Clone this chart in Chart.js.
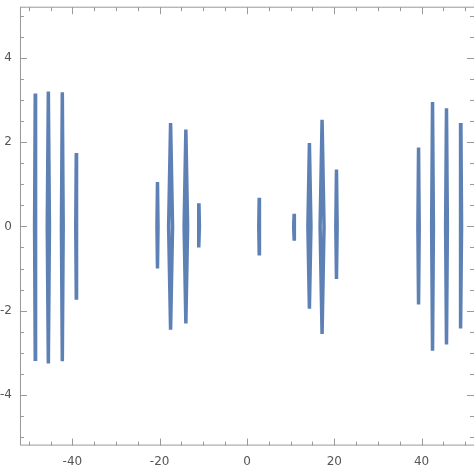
<!DOCTYPE html>
<html><head><meta charset="utf-8">
<script src="https://cdn.jsdelivr.net/npm/chart.js@4"></script>
<style>html,body{margin:0;padding:0;background:#fff}#w{width:474px;height:473px}</style>
</head><body><div id="w"><canvas id="c"></canvas></div>
<script>
// spike centers, half-heights (top, bottom) and bulge half-widths
const centers = [-48.5,-45.5,-42.3,-39.1,-20.5,-17.5,-14.0,-11.0,2.8,10.8,14.3,17.2,20.5,39.3,42.5,45.7,49.0];
const tops    = [3.15,3.2,3.18,1.74,1.05,2.45,2.3,0.55,0.68,0.3,1.98,2.53,1.35,1.87,2.95,2.8,2.45];
const bottoms = [-3.15,-3.25,-3.2,-1.7,-1.0,-2.45,-2.3,-0.5,-0.65,-0.3,-1.95,-2.55,-1.25,-1.85,-2.95,-2.8,-2.42];
const bulges  = [0.15,0.25,0.2,0.12,0.12,0.45,0.4,0.1,0.1,0.1,0.35,0.45,0.15,0.15,0.2,0.2,0.15];
const xTicks = [-40,-20,0,20,40];
const yTicks = [-4,-2,0,2,4];

const pts = [];
centers.forEach((c,i)=>{
  pts.push({x:c,y:tops[i]},{x:c-bulges[i],y:0},{x:c,y:bottoms[i]},{x:c+bulges[i],y:0},{x:c,y:tops[i]},{x:null,y:null});
});

const frameTicks = {id:'ft',afterDraw(ch){
  const {ctx,chartArea:a,scales:{x,y}}=ch;
  ctx.save();ctx.strokeStyle='#999';ctx.lineWidth=1;
  ctx.strokeRect(a.left+0.5,a.top,a.right-a.left,a.bottom-a.top-0.5);
  for(let v=-50;v<=50;v+=5){const p=Math.round(x.getPixelForValue(v))+0.5;const L=v%20===0?7:4;
    ctx.beginPath();ctx.moveTo(p,a.bottom);ctx.lineTo(p,a.bottom-L);ctx.moveTo(p,a.top);ctx.lineTo(p,a.top+L);ctx.stroke();}
  for(let v=-5;v<=5;v+=0.5){const p=Math.round(y.getPixelForValue(v))+0.5;const L=Math.abs(v%2)<1e-9?7:4;
    ctx.beginPath();ctx.moveTo(a.left,p);ctx.lineTo(a.left+L,p);ctx.moveTo(a.right,p);ctx.lineTo(a.right-L,p);ctx.stroke();}
  ctx.restore();}};

new Chart(document.getElementById('c'),{
  type:'scatter',
  data:{datasets:[{data:pts,showLine:true,spanGaps:false,borderColor:'#5E81B5',borderWidth:3.5,pointRadius:0,fill:false}]},
  options:{responsive:true,maintainAspectRatio:false,animation:false,
    layout:{padding:{top:-20,right:-6,bottom:3,left:0}},
    plugins:{legend:{display:false},tooltip:{enabled:false}},
    scales:{
      x:{type:'linear',min:-52,max:52,afterBuildTicks:s=>{s.ticks=xTicks.map(v=>({value:v}))},
        grid:{display:false},border:{display:false},
        ticks:{color:'#555',font:{family:'DejaVu Sans',size:12},padding:1}},
      y:{type:'linear',min:-5.2,max:5.2,afterBuildTicks:s=>{s.ticks=yTicks.map(v=>({value:v}))},
        grid:{display:false},border:{display:false},
        ticks:{color:'#555',font:{family:'DejaVu Sans',size:12},padding:0}}
    }},
  plugins:[frameTicks]
});
</script></body></html>
